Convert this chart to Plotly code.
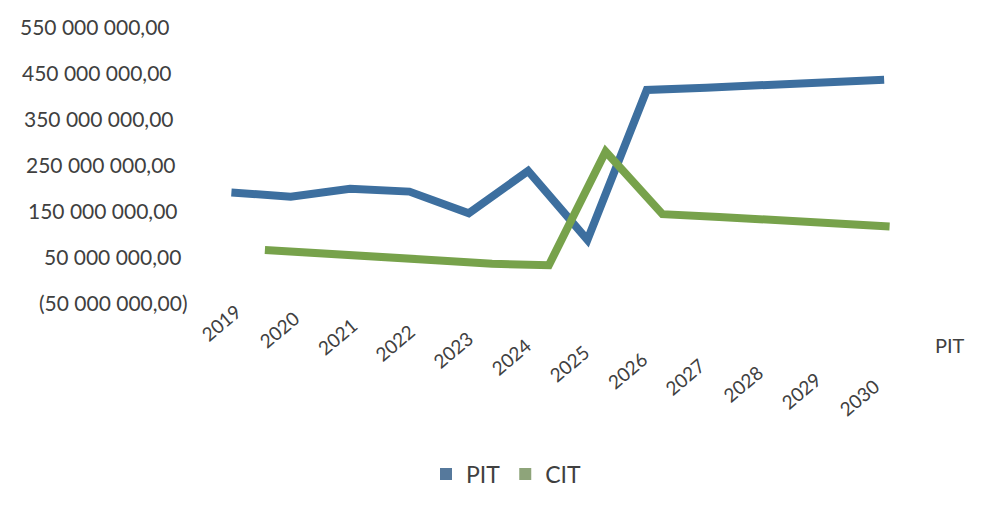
import plotly.graph_objects as go

years = ["2019", "2020", "2021", "2022", "2023", "2024", "2025", "2026", "2027", "2028", "2029", "2030"]
pit = [188e6, 179e6, 196e6, 190e6, 143e6, 235e6, 85e6, 411e6, 416e6, 421e6, 427e6, 433e6]
cit = [63e6, 57e6, 50e6, 41e6, 33e6, 30e6, 277e6, 141e6, 135e6, 128e6, 121e6, 114e6]
y_tick_values = [550e6, 450e6, 350e6, 250e6, 150e6, 50e6, -50e6]
y_tick_labels = ["550 000 000,00", "450 000 000,00", "350 000 000,00", "250 000 000,00",
                 "150 000 000,00", "50 000 000,00", "(50 000 000,00)"]
series_names = ["PIT", "CIT"]

W, H = 992, 508
OFF = 8  # page body margin: figure starts 8px into the window
FONT = "Lato, 'Open Sans', sans-serif"
TXT = "#404040"
PIT_LINE = "#3d6f9f"
CIT_LINE = "#77a24b"
PIT_LEG = "#56799c"
CIT_LEG = "#8ea47a"


def px(xw):  # window x -> paper x
    return (xw - OFF) / W


def py(yw):  # window y -> paper y
    return 1 - (yw - OFF) / H


def cat_range(x0, step):  # category index 0 at window x0, spacing step px
    f0 = x0 - OFF
    return [-f0 / step, (W - f0) / step]


# value scale: 50M at window y 256, 46 px per 100M
v_ref, y_ref, px_per = 50e6, 256 - OFF, 0.46e-6
y_range = [v_ref - (H - y_ref) / px_per, v_ref + y_ref / px_per]

fig = go.Figure()
fig.add_trace(go.Scatter(x=years, y=pit, mode="lines", name="PIT", showlegend=False,
                         line=dict(color=PIT_LINE, width=8), xaxis="x", yaxis="y"))
fig.add_trace(go.Scatter(x=years, y=cit, mode="lines", name="CIT", showlegend=False,
                         line=dict(color=CIT_LINE, width=8), xaxis="x2", yaxis="y"))
for nm, col in zip(series_names, [PIT_LEG, CIT_LEG]):
    fig.add_trace(go.Scatter(x=[None], y=[None], mode="markers", name=nm,
                             marker=dict(symbol="square", size=12, color=col)))

annotations = []
for i, (v, t) in enumerate(zip(y_tick_values, y_tick_labels)):
    xr = 172 + 2.1 * i + (5 if t.startswith("(") else 0)
    annotations.append(dict(x=px(xr), xref="paper", y=v, yref="y", text=t, showarrow=False,
                            xanchor="right", yanchor="middle",
                            font=dict(family=FONT, size=21, color=TXT)))
for i, yr in enumerate(years):
    annotations.append(dict(x=px(221 + 58 * i), xref="paper", y=py(322.5 + 6.8 * i), yref="paper",
                            text=yr, showarrow=False, textangle=-40,
                            xanchor="center", yanchor="middle",
                            font=dict(family=FONT, size=19, color=TXT)))
annotations.append(dict(x=px(950), xref="paper", y=py(345), yref="paper", text="PIT",
                        showarrow=False, xanchor="center", yanchor="middle",
                        font=dict(family=FONT, size=20, color=TXT)))

fig.update_layout(
    width=W, height=H,
    margin=dict(l=0, r=0, t=0, b=0, autoexpand=False),
    paper_bgcolor="white", plot_bgcolor="white",
    xaxis=dict(type="category", categoryarray=years, range=cat_range(231.4, 59.34),
               showgrid=False, zeroline=False, showticklabels=False, showline=False),
    xaxis2=dict(type="category", categoryarray=years, range=cat_range(264.9, 56.79), overlaying="x",
                showgrid=False, zeroline=False, showticklabels=False, showline=False),
    yaxis=dict(range=y_range, showgrid=False, zeroline=False,
               showticklabels=False, showline=False),
    showlegend=True,
    legend=dict(orientation="h", x=px(426), xanchor="left", y=py(474), yanchor="middle",
                font=dict(family=FONT, size=23, color=TXT), bgcolor="rgba(0,0,0,0)",
                itemwidth=30, tracegroupgap=0),
    annotations=annotations,
)

fig.write_html("out.html")
